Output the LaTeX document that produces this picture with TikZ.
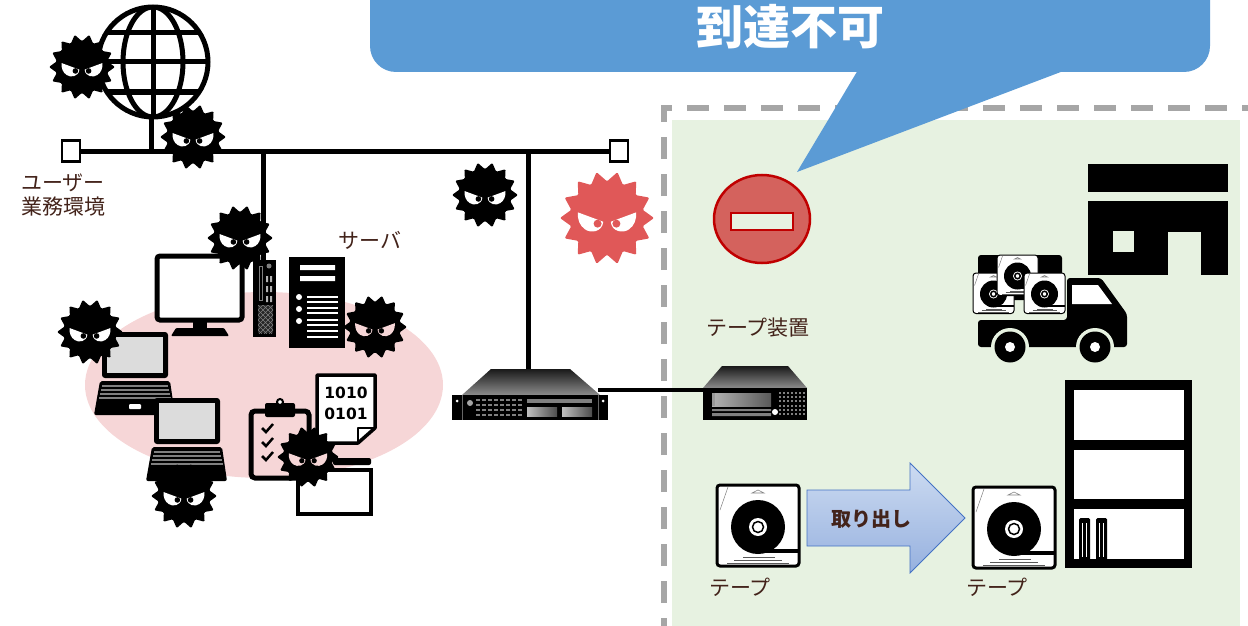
\documentclass[tikz,border=0pt]{standalone}
\usepackage{fontspec}
\usetikzlibrary{positioning}
\newfontfamily\jpfont{Noto Sans CJK JP}
\newfontfamily\numfont{DejaVu Sans}
\definecolor{bubbleblue}{HTML}{5B9BD5}
\definecolor{zonegreen}{HTML}{E7F2E1}
\definecolor{zonegray}{HTML}{A6A6A6}
\definecolor{lanpink}{HTML}{F6D6D7}
\definecolor{textbrown}{HTML}{43231A}
\definecolor{virusred}{HTML}{E05858}
\definecolor{stopred}{HTML}{D4625D}
\definecolor{stopedge}{HTML}{C00000}
\definecolor{screengray}{HTML}{DCDCDC}
\definecolor{arrowtop}{HTML}{CDDBF1}
\definecolor{arrowbottom}{HTML}{96B1DF}
\definecolor{arrowedge}{HTML}{4472C4}

\begin{document}
\begin{tikzpicture}[
        x=1pt, y=-1pt,
        net/.style={line width=5pt},
        jack/.style={rectangle, draw=black, fill=white, line width=2.5pt, minimum width=18pt, minimum height=21pt, inner sep=0pt},
        jplabel/.style={font=\jpfont\fontsize{21}{24}\selectfont, text=textbrown, inner sep=0pt},
        pics/virus/.style n args={2}{code={
            \fill[#1, rounded corners=1.2pt] (0:1) foreach \k in {1,...,27} { -- ({\k*360/28}:{1-0.22*mod(\k,2)}) } -- cycle;
            \foreach \s in {1,-1} {
                \fill[#2, xscale=\s] (-0.62,-0.12) -- (-0.08,0.08) .. controls (-0.1,0.3) and (-0.35,0.33) .. (-0.47,0.24) .. controls (-0.58,0.16) and (-0.63,0.04) .. cycle;
                \fill[#1, xscale=\s] (-0.2,0.12) circle (0.085);
            }
        }},
        pics/tape/.style={code={
            \draw[line width=#1, fill=white, rounded corners=3pt] (0,0) rectangle (82,81);
            \draw[gray, line width=0.5pt] (11,2) -- (3,25);
            \draw[gray, line width=0.6pt] (35,8) -- (41,5) -- (47,8) -- cycle;
            \fill (41,42) circle (27);
            \fill (45,64) rectangle (81,68);
            \fill[white] (41,42) circle (9);
            \draw[line width=1.5pt] (41,42) circle (5.5);
            \draw[gray!70!black, line width=1.3pt] (26,72.5) -- (58,72.5) (17,75.5) -- (65,75.5) (10,78.5) -- (72,78.5);
        }},
        pics/laptop/.style={code={
            \fill[rounded corners=3pt] (0,0) rectangle (66,46);
            \fill[screengray] (5,5) rectangle (61,41);
            \fill[rounded corners=2pt] (-2,49) -- (68,49) -- (73,83) -- (-8,83) -- cycle;
            \foreach \r/\a in {54/0,58/1,62/2,66/3}
                \draw[gray, line width=2pt] ({0-\a},\r) -- ({66+\a},\r);
            \fill[white, rounded corners=1pt] (27,72) rectangle (39,77);
        }}
    ]
        \useasboundingbox (0,0) rectangle (1248,626);
        \clip (0,0) rectangle (1248,626);

        % Isolated zone
        \fill[zonegreen] (672,120) rectangle (1240,640);
        \draw[zonegray, line width=6pt, dash pattern=on 22pt off 15pt] (664,640) -- (664,108) -- (1260,108);

        % Callout
        \fill[bubbleblue, rounded corners=26pt] (370,-60) rectangle (1210,72);
        \fill[bubbleblue] (858,70) -- (797,172) -- (1066,70) -- cycle;
        \node[font=\jpfont\bfseries\fontsize{47}{52}\selectfont, text=white, inner sep=0pt] (unreach) at (790,27) {到達不可};

        % Office LAN
        \fill[lanpink] (264,385) ellipse (179 and 93);

        % Internet
        \draw[line width=5pt] (153,62) circle (55);
        \begin{scope}
            \clip (153,62) circle (55);
            \draw[line width=5pt] (153,62) ellipse (30 and 55);
            \draw[line width=5pt] (153,5) -- (153,120);
            \draw[line width=5pt] (95,33) -- (215,33) (95,62) -- (215,62) (95,92) -- (215,92);
        \end{scope}

        % Network
        \node[jack] (userjack) at (71,151) {};
        \node[jack] (tapejack) at (619,151) {};
        \coordinate (netglobe) at (151,151);
        \coordinate (netpc) at (263,151);
        \coordinate (netrack) at (528,151);
        \coordinate (globefoot) at (151,116);
        \coordinate (pctop) at (263,260);
        \coordinate (racktop) at (528,370);
        \draw[net] (userjack) -- (tapejack);
        \draw[net] (globefoot) -- (netglobe);
        \draw[net] (netpc) -- (pctop);
        \draw[net] (netrack) -- (racktop);
        \node[jack] at (userjack) {};
        \node[jack] at (tapejack) {};

        \node[jplabel, align=left, anchor=west] (userenv) at (21,195) {ユーザー\\業務環境};
        \node[jplabel] (srvlabel) at (370,240) {サーバ};

        % Desktop PC
        \draw[line width=5pt, fill=white, rounded corners=3pt] (157,256) rectangle (242,320);
        \fill (193,321) rectangle (207,330);
        \fill[rounded corners=1pt] (176,328) -- (224,328) -- (229,336) -- (171,336) -- cycle;
        \fill (253,260) rectangle (276,337);
        \draw[gray, line width=0.8pt] (259,266) rectangle (262,300);
        \fill[gray] (269,266) circle (2.5);
        \foreach \yy in {276,286,296}
            \fill[gray!60] (266,\yy) rectangle (268,\yy+6) (270,\yy) rectangle (272,\yy+6);
        \begin{scope}
            \clip (258,305) rectangle (273,333);
            \fill[black!85] (258,305) rectangle (273,333);
            \foreach \d in {-15,-10,...,30}
                \draw[gray, line width=0.5pt] (258,305+\d) -- ++(15,15) (273,305+\d) -- ++(-15,15);
        \end{scope}

        % File server
        \fill (289,257) rectangle (345,348);
        \fill[white] (300,265) rectangle (335,270) (300,276) rectangle (335,281);
        \foreach \yy in {297,309,321}
            \fill[white] (299,\yy) circle (3);
        \foreach \yy in {297,302,308,313,320,325,331,337}
            \draw[white, line width=2pt] (307,\yy) -- (338,\yy);

        % Laptops
        \pic at (102,332) {laptop};
        \pic at (154,398) {laptop};

        % Clipboard, data sheet, folder
        \draw[line width=5pt, rounded corners=4pt] (251,411) rectangle (309,478);
        \fill[rounded corners=2pt] (265,403) rectangle (295,417);
        \filldraw[fill=white, line width=2pt] (280,402) circle (3);
        \foreach \yy in {429,443,457}
            \draw[line width=2.5pt] (262,\yy-1) -- (266,\yy+3) -- (273,\yy-5);
        \draw[line width=3.5pt, fill=white, line join=round] (317,375) -- (375,375) -- (375,428) -- (358,443) -- (317,443) -- cycle;
        \draw[line width=2.5pt, line join=round] (358,443) -- (358,428) -- (375,428);
        \node[font=\numfont\bfseries\fontsize{15.5}{21}\selectfont, align=center, inner sep=0pt] (bits) at (346,403) {1010\\0101};
        \fill[rounded corners=2pt] (333,458) rectangle (371,465);
        \draw[line width=4pt, fill=white] (298,470) rectangle (371,514);

        % Rack server
        \shade[top color=black!90, bottom color=black!45] (491,369) -- (570,369) -- (600,395) -- (462,395) -- cycle;
        \fill (452,395) rectangle (608,420);
        \draw[black!60, line width=0.6pt] (462,395) -- (462,420) (598,395) -- (598,420);
        \fill[white] (457,401) circle (1.5) (603,401) circle (1.5);
        \fill[gray!70] (470,403) circle (3);
        \foreach \row in {0,...,3}
            \foreach \col in {0,...,7}
                \fill[gray] ({476+\col*6},{399+\row*5}) rectangle ++(3.5,1.5);
        \fill[gray] (527,399) rectangle (592,403);
        \shade[left color=black!25, right color=black!70] (527,407) rectangle (557,416);
        \shade[left color=black!25, right color=black!70] (562,407) rectangle (592,416);

        % Tape drive
        \coordinate (rackside) at (598,390);
        \coordinate (driveside) at (705,390);
        \draw[line width=4pt] (rackside) -- (driveside);
        \shade[top color=black!90, bottom color=black!45] (722,366) -- (788,366) -- (807,388) -- (703,388) -- cycle;
        \fill (703,388) rectangle (807,420);
        \shade[left color=black!30, right color=black!65] (712,393) rectangle (771,406);
        \fill[gray!80] (712,393) rectangle (715,406);
        \fill[gray] (712,409) rectangle (771,411) (712,413) rectangle (771,416);
        \fill[white] (775,412) circle (3);
        \foreach \row in {0,...,5}
            \foreach \col in {0,...,6}
                \fill[gray] ({779+\col*4},{392+\row*4.2}) rectangle ++(2,2);
        \node[jplabel] (drivelabel) at (758,328) {テープ装置};

        % Blocked access
        \filldraw[fill=stopred, draw=stopedge, line width=2.5pt] (762,219) ellipse (48 and 44);
        \filldraw[fill=zonegreen, draw=stopedge, line width=2.5pt] (731,213) rectangle (793,230);

        % Off-site vault
        \fill (1088,164) rectangle (1228,192);
        \fill (1088,201) rectangle (1228,275);
        \fill[zonegreen] (1113,231) rectangle (1134,252);
        \fill[zonegreen] (1168,232) rectangle (1201,276);

        % Truck with tapes
        \fill[rounded corners=3pt] (978,255) rectangle (1062,300);
        \pic[scale=0.5] at (973,273) {tape=1pt};
        \pic[scale=0.5] at (997,255) {tape=1pt};
        \pic[scale=0.5] at (1024,273) {tape=1pt};
        \fill[rounded corners=3pt] (978,320) -- (1067,320) -- (1067,278) -- (1101,278) -- (1127,314) -- (1127,347) -- (978,347) -- cycle;
        \fill[white] (1072,285) -- (1098,285) -- (1112,304) -- (1072,304) -- cycle;
        \foreach \wx in {1010,1095} {
            \fill[zonegreen] (\wx,347) circle (19);
            \fill (\wx,347) circle (15.5);
            \fill[white] (\wx,347) circle (5);
        }

        % Shelf
        \fill (1065,380) rectangle (1192,568);
        \fill[white] (1074,390) rectangle (1184,440);
        \fill[white] (1074,450) rectangle (1184,499);
        \fill[white] (1074,509) rectangle (1184,559);
        \foreach \bx in {1079,1096} {
            \fill[rounded corners=1.5pt] (\bx,518) rectangle (\bx+11,562);
            \draw[white, line width=0.8pt] (\bx+3.5,523) -- (\bx+3.5,557) (\bx+7,523) -- (\bx+7,557);
        }

        % Tapes and take-out arrow
        \pic at (717,485) {tape=3pt};
        \pic at (973,487) {tape=3pt};
        \node[jplabel] (tapelabelA) at (740,587) {テープ};
        \node[jplabel] (tapelabelB) at (997,587) {テープ};
        \path[draw=arrowedge, line width=0.8pt, top color=arrowtop, bottom color=arrowbottom] (807,490) -- (910,490) -- (910,463) -- (965,518) -- (910,573) -- (910,546) -- (807,546) -- cycle;
        \node[font=\jpfont\bfseries\fontsize{20}{22}\selectfont, text=textbrown, inner sep=0pt] (takeout) at (871,519) {取り出し};

        % Malware
        \pic[scale=33] at (82,67) {virus={black}{white}};
        \pic[scale=33] at (193,137) {virus={black}{white}};
        \pic[scale=33] at (240,238) {virus={black}{white}};
        \pic[scale=33] at (485,195) {virus={black}{white}};
        \pic[scale=47] at (607,218) {virus={virusred}{white}};
        \pic[scale=32] at (375,327) {virus={black}{lanpink}};
        \pic[scale=33] at (90,332) {virus={black}{white}};
        \pic[scale=33] at (184,496) {virus={black}{white}};
        \pic[scale=31] at (308,457) {virus={black}{lanpink}};
    \end{tikzpicture}
\end{document}
